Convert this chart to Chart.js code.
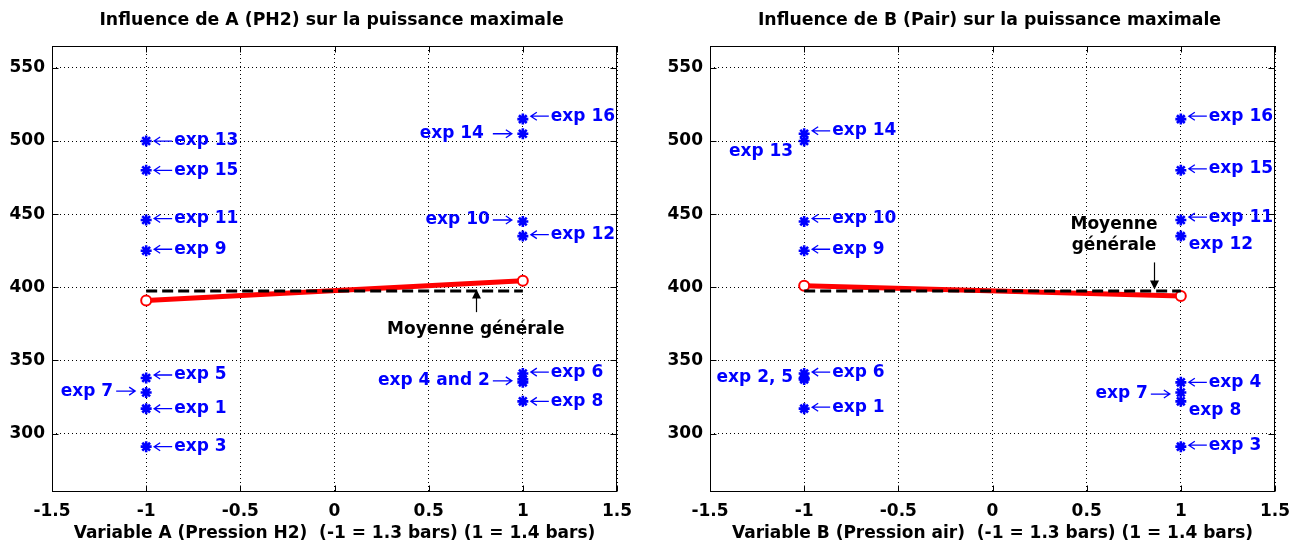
<!DOCTYPE html>
<html>
<head>
<meta charset="utf-8">
<script src="https://cdn.jsdelivr.net/npm/chart.js@4.4.1/dist/chart.umd.min.js"></script>
<style>
html, body { margin: 0; padding: 0; background: #fff; }
#wrap { position: relative; width: 1303px; height: 545px; }
.box { position: absolute; top: 0; height: 545px; }
#boxA { left: 0; width: 651px; }
#boxB { left: 651px; width: 652px; }
</style>
</head>
<body>
<div id="wrap">
  <div class="box" id="boxA"><canvas id="chartA"></canvas></div>
  <div class="box" id="boxB"><canvas id="chartB"></canvas></div>
</div>
<script>
// puissance maximale for exp 1 .. exp 16
const pMax   = [317, 337, 291, 335, 338, 341, 328, 322, 425, 445, 446, 435, 500, 505, 480, 515];
const levelA = [-1, 1, -1, 1, -1, 1, -1, 1, -1, 1, -1, 1, -1, 1, -1, 1];
const levelB = [-1, -1, 1, 1, -1, -1, 1, 1, -1, -1, 1, 1, -1, -1, 1, 1];

const levels = [-1, 1];
const meanA = [391, 404.5];
const meanB = [401, 394];
const grandMean = 397.5;

const xTicks = [-1.5, -1, -0.5, 0, 0.5, 1, 1.5];
const xTickLabels = ['-1.5', '-1', '-0.5', '0', '0.5', '1', '1.5'];
const yTicks = [300, 350, 400, 450, 500, 550];

const titleA = 'Influence de A (PH2) sur la puissance maximale';
const titleB = 'Influence de B (Pair) sur la puissance maximale';
const xTitleA = 'Variable A (Pression H2)  (-1 = 1.3 bars) (1 = 1.4 bars)';
const xTitleB = 'Variable B (Pression air)  (-1 = 1.3 bars) (1 = 1.4 bars)';

// text annotations: [text, x, y, side]
const labelsA = [
  ['←exp 13', -1, 500, 'r'], ['←exp 15', -1, 480, 'r'], ['←exp 11', -1, 447, 'r'],
  ['←exp 9', -1, 426, 'r'], ['←exp 5', -1, 340, 'r'], ['exp 7→', -1, 329, 'l'],
  ['←exp 1', -1, 317, 'r'], ['←exp 3', -1, 291, 'r'],
  ['←exp 16', 1, 517, 'r'], ['exp 14 →', 1, 505, 'l'], ['exp 10→', 1, 446, 'l'],
  ['←exp 12', 1, 436, 'r'], ['exp 4 and 2→', 1, 336, 'l'], ['←exp 6', 1, 342, 'r'],
  ['←exp 8', 1, 322, 'r']
];
const labelsB = [
  ['←exp 14', -1, 507, 'r'], ['exp 13', -1, 493, 'l'], ['←exp 10', -1, 447, 'r'],
  ['←exp 9', -1, 426, 'r'], ['exp 2, 5', -1, 338, 'l'], ['←exp 6', -1, 342, 'r'],
  ['←exp 1', -1, 318, 'r'],
  ['←exp 16', 1, 517, 'r'], ['←exp 15', 1, 481, 'r'], ['←exp 11', 1, 448, 'r'],
  ['exp 12', 1, 429, 'r'], ['←exp 4', 1, 335, 'r'], ['exp 7→', 1, 327, 'l'],
  ['exp 8', 1, 316, 'r'], ['←exp 3', 1, 292, 'r']
];
const noteA = { lines: ['Moyenne générale'], x: 0.75, y: 371, ax: 0.75, from: 383, to: 398.5 };
const noteB = { lines: ['Moyenne', 'générale'], x: 0.645, y: 443, ax: 0.86, from: 417, to: 398.5 };

Chart.defaults.font.family = '"DejaVu Sans", sans-serif';
Chart.defaults.font.size = 17;
Chart.defaults.font.weight = 'bold';
Chart.defaults.color = '#000';

const FONT = 'bold 17px "DejaVu Sans"';
const TITLE_FONT = 'bold 17.3px "DejaVu Sans"';

function arrowLine(ctx, x0, x1, y, dir) {
  // thin arrow, head at x0 when dir = -1 (pointing left), at x1 when dir = 1
  ctx.beginPath();
  ctx.moveTo(x0, y); ctx.lineTo(x1, y);
  const hx = dir < 0 ? x0 : x1;
  ctx.moveTo(hx - dir * 6, y - 4); ctx.lineTo(hx, y); ctx.lineTo(hx - dir * 6, y + 4);
  ctx.stroke();
}

function makeOverlay(labels, note, title) {
  return {
    id: 'overlay',
    afterDatasetsDraw(chart) {
      const { ctx, chartArea: a, scales: { x, y } } = chart;
      ctx.save();
      ctx.setLineDash([]);
      ctx.strokeStyle = '#000';
      ctx.lineWidth = 1;
      const L = Math.round(a.left) + 0.5, R = Math.round(a.right) - 0.5;
      const T = Math.round(a.top) + 0.5, B = Math.round(a.bottom) - 0.5;
      ctx.strokeRect(L, T, R - L, B - T);
      ctx.beginPath();
      xTicks.forEach(v => {
        const px = Math.round(x.getPixelForValue(v)) + 0.5;
        ctx.moveTo(px, B); ctx.lineTo(px, B - 6);
        ctx.moveTo(px, T); ctx.lineTo(px, T + 6);
      });
      yTicks.forEach(v => {
        const py = Math.round(y.getPixelForValue(v)) + 0.5;
        ctx.moveTo(L, py); ctx.lineTo(L + 6, py);
        ctx.moveTo(R, py); ctx.lineTo(R - 6, py);
      });
      ctx.stroke();

      // title, centred over the axes box
      ctx.fillStyle = '#000';
      ctx.font = TITLE_FONT;
      ctx.textAlign = 'center';
      ctx.textBaseline = 'middle';
      ctx.fillText(title, (a.left + a.right) / 2 - 3, 21);

      // blue experiment labels
      ctx.font = FONT;
      ctx.fillStyle = '#0000ff';
      ctx.strokeStyle = '#0000ff';
      ctx.lineWidth = 1.3;
      labels.forEach(([txt, vx, vy, side]) => {
        const px = x.getPixelForValue(vx);
        const py = y.getPixelForValue(vy);
        if (side === 'r') {
          let sx = px + 8;
          let body = txt;
          if (txt.startsWith('←')) {
            arrowLine(ctx, sx, sx + 18, py, -1);
            sx += 20;
            body = txt.slice(1);
          }
          ctx.textAlign = 'left';
          ctx.fillText(body, sx, py);
        } else {
          let ex = px - 11;
          let body = txt;
          if (txt.endsWith('→')) {
            arrowLine(ctx, ex - 19, ex, py, 1);
            ex -= 22;
            body = txt.slice(0, -1);
          }
          ctx.textAlign = 'right';
          ctx.fillText(body, ex, py);
        }
      });

      // "Moyenne générale" note with arrow
      ctx.fillStyle = '#000';
      ctx.strokeStyle = '#000';
      ctx.textAlign = 'center';
      const nx = x.getPixelForValue(note.x);
      note.lines.forEach((s, i) => {
        ctx.fillText(s, nx, y.getPixelForValue(note.y) + i * 21);
      });
      const ax = Math.round(x.getPixelForValue(note.ax)) + 0.5;
      const y0 = y.getPixelForValue(note.from), y1 = y.getPixelForValue(note.to);
      const d = y1 > y0 ? 1 : -1;
      ctx.lineWidth = 1.2;
      ctx.beginPath(); ctx.moveTo(ax, y0); ctx.lineTo(ax, y1 - d * 8); ctx.stroke();
      ctx.beginPath();
      ctx.moveTo(ax, y1); ctx.lineTo(ax - 4.5, y1 - d * 9); ctx.lineTo(ax + 4.5, y1 - d * 9);
      ctx.closePath(); ctx.fill();
      ctx.restore();
    }
  };
}

function makeChart(id, level, means, labels, note, title, xTitle, yWidth, rightPad) {
  const stars = pMax.map((v, i) => ({ x: level[i], y: v }));
  return new Chart(document.getElementById(id), {
    type: 'scatter',
    data: {
      datasets: [
        {
          data: stars, showLine: false, pointStyle: 'star', pointRadius: 5.5,
          pointBorderColor: '#0000ff', pointBackgroundColor: '#0000ff', pointBorderWidth: 2.6, order: 0
        },
        {
          data: levels.map(l => ({ x: l, y: grandMean })), showLine: true,
          borderColor: '#000', borderWidth: 3, borderDash: [11, 5], pointRadius: 0, order: 1
        },
        {
          data: levels.map((l, i) => ({ x: l, y: means[i] })), showLine: true,
          borderColor: '#ff0000', borderWidth: 5, pointRadius: 5, pointStyle: 'circle',
          pointBackgroundColor: '#fff', pointBorderColor: '#ff0000', pointBorderWidth: 2, order: 2
        }
      ]
    },
    options: {
      responsive: true,
      maintainAspectRatio: false,
      animation: false,
      events: [],
      layout: { padding: { left: 0, right: rightPad, top: 46, bottom: 0 } },
      plugins: {
        legend: { display: false },
        tooltip: { enabled: false },
        title: { display: false }
      },
      scales: {
        x: {
          type: 'linear', min: -1.5, max: 1.5,
          afterBuildTicks: s => { s.ticks = xTicks.map(v => ({ value: v })); },
          afterFit: s => { s.height = 53; },
          ticks: { color: '#000', padding: 9, autoSkip: false, maxRotation: 0, callback: (v, i) => xTickLabels[i] },
          grid: { color: '#000', lineWidth: 1, drawTicks: false },
          border: { display: false, dash: [1, 3] },
          title: { display: true, text: xTitle, color: '#000', font: { size: 17, weight: 'bold' }, padding: { top: 0, bottom: 1 } }
        },
        y: {
          type: 'linear', min: 260, max: 565,
          afterBuildTicks: s => { s.ticks = yTicks.map(v => ({ value: v })); },
          afterFit: s => { s.width = yWidth; },
          ticks: { color: '#000', padding: 7, autoSkip: false },
          grid: { color: '#000', lineWidth: 1, drawTicks: false },
          border: { display: false, dash: [1, 3] }
        }
      }
    },
    plugins: [makeOverlay(labels, note, title)]
  });
}

makeChart('chartA', levelA, meanA, labelsA, noteA, titleA, xTitleA, 52, 34);
makeChart('chartB', levelB, meanB, labelsB, noteB, titleB, xTitleB, 59, 28);
</script>
</body>
</html>
